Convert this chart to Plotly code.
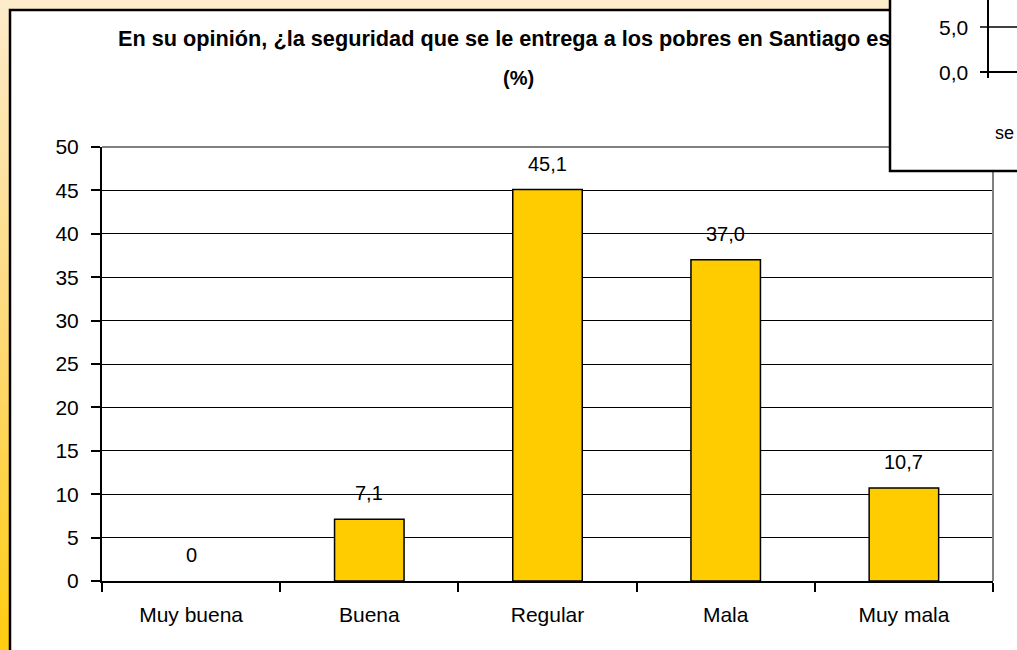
import base64
import plotly.graph_objects as go

categories = ["Muy buena", "Buena", "Regular", "Mala", "Muy mala"]
values = [0, 7.1, 45.1, 37.0, 10.7]
y_ticks = list(range(0, 51, 5))
title_line1 = "En su opinión, ¿la seguridad que se le entrega a los pobres en Santiago es"
title_line2 = "(%)"
inset_ticks = ["5,0", "0,0"]
inset_label = "se"

W, H = 1017, 650
L, R, T, B = 102, 993, 147, 581
PW, PH = R - L, B - T


def px(x):
    return (x - L) / PW


def py(y):
    return (B - y) / PH


def fmt(v):
    return "0" if v == 0 else f"{v:.1f}".replace(".", ",")


FONT = "Liberation Sans, Arial, sans-serif"

fig = go.Figure()
fig.add_trace(go.Bar(
    x=categories, y=values,
    marker=dict(color="#FFCC00",
                line=dict(color="#000000", width=[1.5 if v else 0 for v in values])),
    width=0.39, hoverinfo="skip",
))

annotations = []
for c, v in zip(categories, values):
    annotations.append(dict(x=c, y=v, xref="x", yref="y", text=fmt(v), showarrow=False,
                            yanchor="bottom", yshift=13,
                            font=dict(family=FONT, size=20, color="#000")))

annotations.append(dict(x=px(116), y=py(39), xref="paper", yref="paper", text=f"<b>{title_line1}</b>",
                        showarrow=False, xanchor="left", yanchor="middle",
                        font=dict(family=FONT, size=21.7, color="#000")))
annotations.append(dict(x=px(518), y=py(78), xref="paper", yref="paper", text=f"<b>{title_line2}</b>",
                        showarrow=False, xanchor="center", yanchor="middle",
                        font=dict(family=FONT, size=20, color="#000")))

# inset (overlapping chart fragment)
for t, yy in zip(inset_ticks, [27, 72]):
    annotations.append(dict(x=px(970), y=py(yy), xref="paper", yref="paper", text=t, showarrow=False,
                            xanchor="right", yanchor="middle",
                            font=dict(family=FONT, size=21, color="#000")))
annotations.append(dict(x=px(993), y=py(133), xref="paper", yref="paper", text=inset_label, showarrow=False,
                        xanchor="left", yanchor="middle",
                        font=dict(family=FONT, size=18, color="#000")))

svg = (f'<svg xmlns="http://www.w3.org/2000/svg" width="{W}" height="{H}" preserveAspectRatio="none">'
       '<defs><linearGradient id="g" x1="0" y1="0" x2="0" y2="1">'
       '<stop offset="0" stop-color="#FDEBCB"/><stop offset="0.5" stop-color="#FEDA7A"/>'
       '<stop offset="1" stop-color="#FFCC0F"/></linearGradient></defs>'
       f'<rect width="{W}" height="{H}" fill="url(#g)"/></svg>')
src = "data:image/svg+xml;base64," + base64.b64encode(svg.encode()).decode()

shapes = [
    # outer white box
    dict(type="rect", xref="paper", yref="paper", x0=px(10), x1=px(1030), y0=py(660), y1=py(10),
         fillcolor="white", line=dict(color="black", width=2.5), layer="below"),
    # plot area border (gray) top and right
    dict(type="line", xref="paper", yref="paper", x0=0, x1=1, y0=1, y1=1,
         line=dict(color="#808080", width=2), layer="above"),
    dict(type="line", xref="paper", yref="paper", x0=1, x1=1, y0=0, y1=1,
         line=dict(color="#808080", width=2), layer="above"),
    # inset box
    dict(type="rect", xref="paper", yref="paper", x0=px(890), x1=px(1030), y0=py(171), y1=py(-10),
         fillcolor="white", line=dict(color="black", width=2.5), layer="above"),
    dict(type="line", xref="paper", yref="paper", x0=px(988), x1=px(988), y0=py(78), y1=py(-5),
         line=dict(color="black", width=2), layer="above"),
    dict(type="line", xref="paper", yref="paper", x0=px(980), x1=px(1020), y0=py(27), y1=py(27),
         line=dict(color="black", width=1.5), layer="above"),
    dict(type="line", xref="paper", yref="paper", x0=px(980), x1=px(1020), y0=py(72), y1=py(72),
         line=dict(color="black", width=2), layer="above"),
]

fig.update_layout(
    width=W, height=H,
    margin=dict(l=L, r=W - R, t=T, b=H - B, pad=0),
    paper_bgcolor="white", plot_bgcolor="white",
    showlegend=False,
    images=[dict(source=src, xref="paper", yref="paper", x=px(0), y=py(0),
                 sizex=W / PW, sizey=H / PH, sizing="stretch", layer="below",
                 xanchor="left", yanchor="top")],
    shapes=shapes,
    annotations=annotations,
    font=dict(family=FONT, color="#000"),
)
fig.update_xaxes(
    type="category", showgrid=False, showline=True, linecolor="black", linewidth=2,
    ticks="outside", tickson="boundaries", ticklen=9, tickwidth=2, tickcolor="black",
    tickfont=dict(family=FONT, size=21, color="#000"), ticklabelstandoff=14,
    fixedrange=True, zeroline=False,
)
fig.update_yaxes(
    range=[0, 50], tickvals=y_ticks, ticktext=[str(v) for v in y_ticks],
    showgrid=True, gridcolor="black", gridwidth=1,
    showline=True, linecolor="black", linewidth=2,
    ticks="outside", ticklen=9, tickwidth=2, tickcolor="black",
    tickfont=dict(family=FONT, size=21, color="#000"), ticklabelstandoff=8,
    zeroline=False, fixedrange=True,
)

fig.write_html("out.html", config={"displayModeBar": False},
               post_script="document.body.style.margin='0';document.body.style.overflow='hidden';")
